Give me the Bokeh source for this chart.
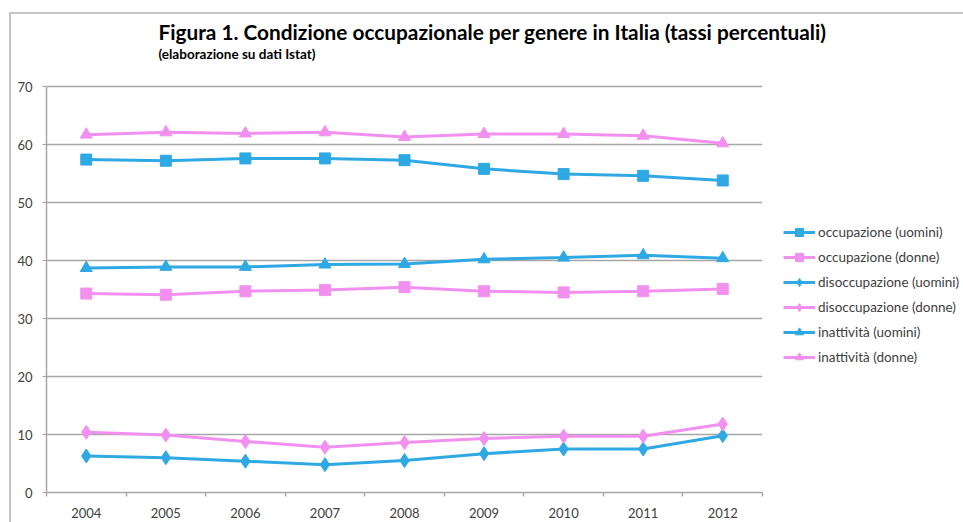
from bokeh.plotting import figure
from bokeh.models import Legend, LegendItem, Title, Label, FixedTicker, Range1d
from bokeh.embed import file_html
from bokeh.resources import INLINE

years = [2004, 2005, 2006, 2007, 2008, 2009, 2010, 2011, 2012]
occ_uomini = [57.4, 57.2, 57.6, 57.6, 57.3, 55.8, 54.9, 54.6, 53.8]
occ_donne = [34.3, 34.1, 34.7, 34.9, 35.4, 34.7, 34.5, 34.7, 35.1]
dis_uomini = [6.3, 6.0, 5.4, 4.8, 5.5, 6.7, 7.5, 7.5, 9.8]
dis_donne = [10.4, 9.9, 8.8, 7.8, 8.6, 9.3, 9.7, 9.7, 11.8]
ina_uomini = [38.7, 38.9, 38.9, 39.3, 39.4, 40.2, 40.5, 40.9, 40.4]
ina_donne = [61.7, 62.1, 61.9, 62.1, 61.3, 61.8, 61.8, 61.5, 60.2]
y_ticks = [0, 10, 20, 30, 40, 50, 60, 70]

title_text = "Figura 1. Condizione  occupazionale per genere in Italia (tassi percentuali)"
subtitle_text = "(elaborazione su dati Istat)"

BLUE = "#2fa9e3"
PINK = "#f290f0"
GRID = "#a6a6a6"
TXT = "#404040"
FONT = "Lato"

PLOT_H = 406          # pixel height of the 0..70 plotting band
FRAME_H = 448         # frame extends upward to hold the subtitle
y_top = y_ticks[-1] * FRAME_H / PLOT_H

p = figure(width=952, height=508, output_backend="svg", toolbar_location=None,
           title=None,
           x_range=Range1d(years[0] - 0.5, years[-1] + 0.5),
           y_range=Range1d(y_ticks[0], y_top),
           frame_width=716, frame_height=FRAME_H,
           min_border_left=35, min_border_right=201,
           min_border_top=30, min_border_bottom=30)
p.styles = {"margin-left": "9px", "margin-top": "12px",
            "border-left": "2px solid #c4c4c4", "border-top": "2px solid #c4c4c4"}
p.outline_line_color = None
p.background_fill_color = "white"
p.border_fill_color = "white"

# axes
p.xgrid.grid_line_color = None
p.ygrid.grid_line_color = GRID
p.ygrid.grid_line_width = 1.5
p.ygrid.ticker = FixedTicker(ticks=y_ticks)

p.yaxis.ticker = FixedTicker(ticks=y_ticks)
p.yaxis.bounds = (y_ticks[0], y_ticks[-1])
p.yaxis.axis_line_color = GRID
p.yaxis.axis_line_width = 1.5
p.yaxis.major_tick_line_color = GRID
p.yaxis.major_tick_in = 0
p.yaxis.major_tick_out = 4
p.yaxis.minor_tick_line_color = None
p.yaxis.major_label_text_font = FONT
p.yaxis.major_label_text_font_size = "13px"
p.yaxis.major_label_text_color = TXT
p.yaxis.major_label_standoff = 10

p.xaxis.ticker = FixedTicker(ticks=years, minor_ticks=[y - 0.5 for y in years] + [years[-1] + 0.5])
p.xaxis.axis_line_color = GRID
p.xaxis.axis_line_width = 1.5
p.xaxis.major_tick_line_color = None
p.xaxis.major_tick_in = 0
p.xaxis.major_tick_out = 0
p.xaxis.minor_tick_line_color = GRID
p.xaxis.minor_tick_line_width = 1.5
p.xaxis.minor_tick_in = 0
p.xaxis.minor_tick_out = 4
p.xaxis.major_label_text_font = FONT
p.xaxis.major_label_text_font_size = "13px"
p.xaxis.major_label_text_color = TXT
p.xaxis.major_label_standoff = 11

series = [
    ("occupazione (uomini)", occ_uomini, BLUE, "square", 11),
    ("occupazione (donne)", occ_donne, PINK, "square", 11),
    ("disoccupazione (uomini)", dis_uomini, BLUE, "diamond", 14),
    ("disoccupazione (donne)", dis_donne, PINK, "diamond", 14),
    ("inattività (uomini)", ina_uomini, BLUE, "triangle", 12),
    ("inattività (donne)", ina_donne, PINK, "triangle", 12),
]

items = []
for name, vals, col, marker, size in series:
    lr = p.line(years, vals, line_color=col, line_width=3)
    sr = p.scatter(years, vals, marker=marker, size=size, fill_color=col, line_color=col)
    items.append(LegendItem(label=name, renderers=[lr, sr]))

legend = Legend(items=items, location=(21, 125), orientation="vertical",
                glyph_width=32, glyph_height=20, label_height=20, spacing=5,
                label_standoff=3, padding=0, margin=0,
                border_line_color=None, background_fill_alpha=0,
                label_text_font=FONT, label_text_font_size="13.5px",
                label_text_color=TXT)
p.add_layout(legend, "right")

p.add_layout(Title(text=title_text, align="left", offset=112, standoff=2,
                   text_font=FONT, text_font_style="bold", text_font_size="20.8px",
                   text_color="black"), "above")

p.add_layout(Label(x=112, y=439, x_units="screen", y_units="screen",
                   text=subtitle_text, text_baseline="alphabetic", text_align="left",
                   text_font=FONT, text_font_style="bold", text_font_size="13.5px",
                   text_color="black"))

open("out.html", "w").write(file_html(p, INLINE))
